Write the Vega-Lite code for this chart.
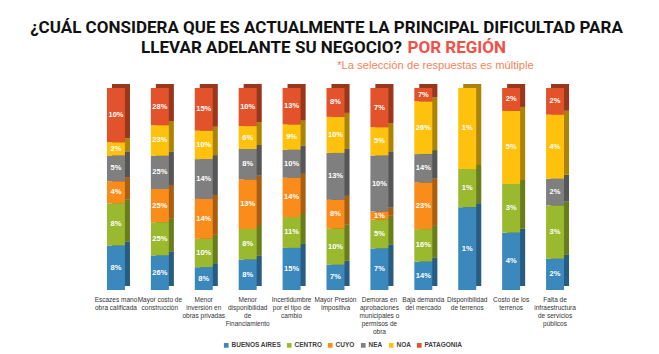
{
  "$schema": "https://vega.github.io/schema/vega-lite/v6.json",
  "width": 483,
  "height": 202,
  "autosize": {"type": "none"},
  "padding": {"left": 94, "top": 88, "right": 82, "bottom": 64},
  "background": "white",
  "title": {
    "text": "¿CUÁL CONSIDERA QUE ES ACTUALMENTE LA PRINCIPAL DIFICULTAD PARA",
    "anchor": "middle",
    "font": "Roboto",
    "fontSize": 17,
    "fontWeight": "bold",
    "color": "#111111",
    "baseline": "alphabetic",
    "offset": 9,
    "dx": -9,
    "dy": 21
  },
  "config": {"view": {"stroke": null}},
  "resolve": {"axis": {"y": "independent"}},
  "data": {
    "values": [
      {"cat": "Escazes mano\nobra calificada", "r": "BUENOS AIRES", "v": 0.081},
      {"cat": "Escazes mano\nobra calificada", "r": "CENTRO", "v": 0.077},
      {"cat": "Escazes mano\nobra calificada", "r": "CUYO", "v": 0.04},
      {"cat": "Escazes mano\nobra calificada", "r": "NEA", "v": 0.047},
      {"cat": "Escazes mano\nobra calificada", "r": "NOA", "v": 0.024},
      {"cat": "Escazes mano\nobra calificada", "r": "PATAGONIA", "v": 0.099},
      {"cat": "Mayor costo de\nconstrucción", "r": "BUENOS AIRES", "v": 0.26},
      {"cat": "Mayor costo de\nconstrucción", "r": "CENTRO", "v": 0.25},
      {"cat": "Mayor costo de\nconstrucción", "r": "CUYO", "v": 0.25},
      {"cat": "Mayor costo de\nconstrucción", "r": "NEA", "v": 0.25},
      {"cat": "Mayor costo de\nconstrucción", "r": "NOA", "v": 0.23},
      {"cat": "Mayor costo de\nconstrucción", "r": "PATAGONIA", "v": 0.28},
      {"cat": "Menor\ninversión en\nobras privadas", "r": "BUENOS AIRES", "v": 0.08},
      {"cat": "Menor\ninversión en\nobras privadas", "r": "CENTRO", "v": 0.10},
      {"cat": "Menor\ninversión en\nobras privadas", "r": "CUYO", "v": 0.14},
      {"cat": "Menor\ninversión en\nobras privadas", "r": "NEA", "v": 0.14},
      {"cat": "Menor\ninversión en\nobras privadas", "r": "NOA", "v": 0.10},
      {"cat": "Menor\ninversión en\nobras privadas", "r": "PATAGONIA", "v": 0.15},
      {"cat": "Menor\ndisponibilidad\nde\nFinanciamiento", "r": "BUENOS AIRES", "v": 0.08},
      {"cat": "Menor\ndisponibilidad\nde\nFinanciamiento", "r": "CENTRO", "v": 0.08},
      {"cat": "Menor\ndisponibilidad\nde\nFinanciamiento", "r": "CUYO", "v": 0.13},
      {"cat": "Menor\ndisponibilidad\nde\nFinanciamiento", "r": "NEA", "v": 0.08},
      {"cat": "Menor\ndisponibilidad\nde\nFinanciamiento", "r": "NOA", "v": 0.06},
      {"cat": "Menor\ndisponibilidad\nde\nFinanciamiento", "r": "PATAGONIA", "v": 0.10},
      {"cat": "Incertidumbre\npor el tipo de\ncambio", "r": "BUENOS AIRES", "v": 0.15},
      {"cat": "Incertidumbre\npor el tipo de\ncambio", "r": "CENTRO", "v": 0.11},
      {"cat": "Incertidumbre\npor el tipo de\ncambio", "r": "CUYO", "v": 0.14},
      {"cat": "Incertidumbre\npor el tipo de\ncambio", "r": "NEA", "v": 0.10},
      {"cat": "Incertidumbre\npor el tipo de\ncambio", "r": "NOA", "v": 0.09},
      {"cat": "Incertidumbre\npor el tipo de\ncambio", "r": "PATAGONIA", "v": 0.13},
      {"cat": "Mayor Presión\nImpositiva", "r": "BUENOS AIRES", "v": 0.07},
      {"cat": "Mayor Presión\nImpositiva", "r": "CENTRO", "v": 0.10},
      {"cat": "Mayor Presión\nImpositiva", "r": "CUYO", "v": 0.08},
      {"cat": "Mayor Presión\nImpositiva", "r": "NEA", "v": 0.13},
      {"cat": "Mayor Presión\nImpositiva", "r": "NOA", "v": 0.10},
      {"cat": "Mayor Presión\nImpositiva", "r": "PATAGONIA", "v": 0.08},
      {"cat": "Demoras en\naprobaciones\nmunicipales o\npermisos de\nobra", "r": "BUENOS AIRES", "v": 0.072},
      {"cat": "Demoras en\naprobaciones\nmunicipales o\npermisos de\nobra", "r": "CENTRO", "v": 0.05},
      {"cat": "Demoras en\naprobaciones\nmunicipales o\npermisos de\nobra", "r": "CUYO", "v": 0.014},
      {"cat": "Demoras en\naprobaciones\nmunicipales o\npermisos de\nobra", "r": "NEA", "v": 0.097},
      {"cat": "Demoras en\naprobaciones\nmunicipales o\npermisos de\nobra", "r": "NOA", "v": 0.049},
      {"cat": "Demoras en\naprobaciones\nmunicipales o\npermisos de\nobra", "r": "PATAGONIA", "v": 0.068},
      {"cat": "Baja demanda\ndel mercado", "r": "BUENOS AIRES", "v": 0.14},
      {"cat": "Baja demanda\ndel mercado", "r": "CENTRO", "v": 0.16},
      {"cat": "Baja demanda\ndel mercado", "r": "CUYO", "v": 0.23},
      {"cat": "Baja demanda\ndel mercado", "r": "NEA", "v": 0.14},
      {"cat": "Baja demanda\ndel mercado", "r": "NOA", "v": 0.26},
      {"cat": "Baja demanda\ndel mercado", "r": "PATAGONIA", "v": 0.066},
      {"cat": "Disponibilidad\nde terrenos", "r": "BUENOS AIRES", "v": 0.013},
      {"cat": "Disponibilidad\nde terrenos", "r": "CENTRO", "v": 0.006},
      {"cat": "Disponibilidad\nde terrenos", "r": "NOA", "v": 0.0127},
      {"cat": "Costo de los\nterrenos", "r": "BUENOS AIRES", "v": 0.04},
      {"cat": "Costo de los\nterrenos", "r": "CENTRO", "v": 0.034},
      {"cat": "Costo de los\nterrenos", "r": "NOA", "v": 0.051},
      {"cat": "Costo de los\nterrenos", "r": "PATAGONIA", "v": 0.016},
      {"cat": "Falta de\ninfraestructura\nde servicios\npúblicos", "r": "BUENOS AIRES", "v": 0.02},
      {"cat": "Falta de\ninfraestructura\nde servicios\npúblicos", "r": "CENTRO", "v": 0.034},
      {"cat": "Falta de\ninfraestructura\nde servicios\npúblicos", "r": "NEA", "v": 0.017},
      {"cat": "Falta de\ninfraestructura\nde servicios\npúblicos", "r": "NOA", "v": 0.041},
      {"cat": "Falta de\ninfraestructura\nde servicios\npúblicos", "r": "PATAGONIA", "v": 0.017}
    ]
  },
  "encoding": {
    "x": {"field": "cat", "type": "nominal", "sort": null,
      "scale": {"paddingInner": 0, "paddingOuter": 0},
      "axis": {"labelAngle": 0, "labelExpr": "split(datum.label, '\\n')", "labelFontSize": 6.5, "labelLineHeight": 8.2, "labelColor": "#333333", "labelFont": "Liberation Sans", "labelPadding": 6, "labelBaseline": "top", "labelOverlap": false, "labelBound": false, "ticks": false, "domain": false,
        "title": "LLEVAR ADELANTE SU NEGOCIO?", "titleX": 177, "titleY": -238, "titleAlign": "center", "titleBaseline": "alphabetic", "titleFontSize": 17, "titleFontWeight": "bold", "titleFont": "Roboto", "titleColor": "#111111"}},
    "color": {"field": "r", "type": "nominal",
      "scale": {"domain": ["BUENOS AIRES", "CENTRO", "CUYO", "NEA", "NOA", "PATAGONIA"], "range": ["#3b88bd", "#9bb92f", "#f98c1a", "#7f7f7f", "#fec20e", "#e2522b"]},
      "legend": {"title": null, "orient": "none", "legendX": 129, "legendY": 254, "direction": "horizontal", "symbolType": "square", "symbolSize": 22, "labelFontSize": 6.5, "labelFontWeight": "bold", "labelColor": "#404040", "labelFont": "Liberation Sans", "labelOffset": 2, "columnPadding": 5, "symbolStrokeWidth": 0}},
    "order": {"field": "r", "sort": "ascending"}
  },
  "layer": [
    {
      "mark": {"type": "bar", "size": 18, "xOffset": 5, "yOffset": -4},
      "encoding": {
        "y": {"field": "v", "type": "quantitative", "stack": "normalize",
          "axis": {"orient": "left", "labels": false, "ticks": false, "domain": false, "grid": false,
            "title": "POR REGIÓN", "titleAngle": 0, "titleX": 313, "titleY": -36, "titleAlign": "left", "titleBaseline": "alphabetic", "titleFont": "Roboto", "titleFontSize": 17, "titleFontWeight": "bold", "titleColor": "#f24f47"}}
      }
    },
    {
      "mark": {"type": "bar", "size": 18, "xOffset": 5, "yOffset": -4, "opacity": 0.32},
      "encoding": {
        "y": {"field": "v", "type": "quantitative", "stack": "normalize", "axis": null},
        "color": {"value": "#000000"},
        "detail": {"field": "r", "type": "nominal"}
      }
    },
    {
      "mark": {"type": "bar", "size": 18},
      "encoding": {
        "y": {"field": "v", "type": "quantitative", "stack": "normalize",
          "axis": {"orient": "right", "labels": false, "ticks": false, "domain": false, "grid": false,
            "title": "*La selección de respuestas es múltiple", "titleAngle": 0, "titleX": -142, "titleY": -20, "titleAlign": "center", "titleBaseline": "alphabetic", "titleFont": "Liberation Sans", "titleFontSize": 11.2, "titleFontWeight": "normal", "titleColor": "#f5845a"}}
      }
    },
    {
      "mark": {"type": "text", "fontSize": 7.5, "fontWeight": "bold", "font": "Liberation Sans"},
      "encoding": {
        "y": {"field": "v", "type": "quantitative", "stack": "normalize", "bandPosition": 0.5, "axis": null},
        "color": {"value": "white"},
        "detail": {"field": "r", "type": "nominal"},
        "text": {"field": "v", "type": "quantitative", "format": ".0%"}
      }
    }
  ]
}
